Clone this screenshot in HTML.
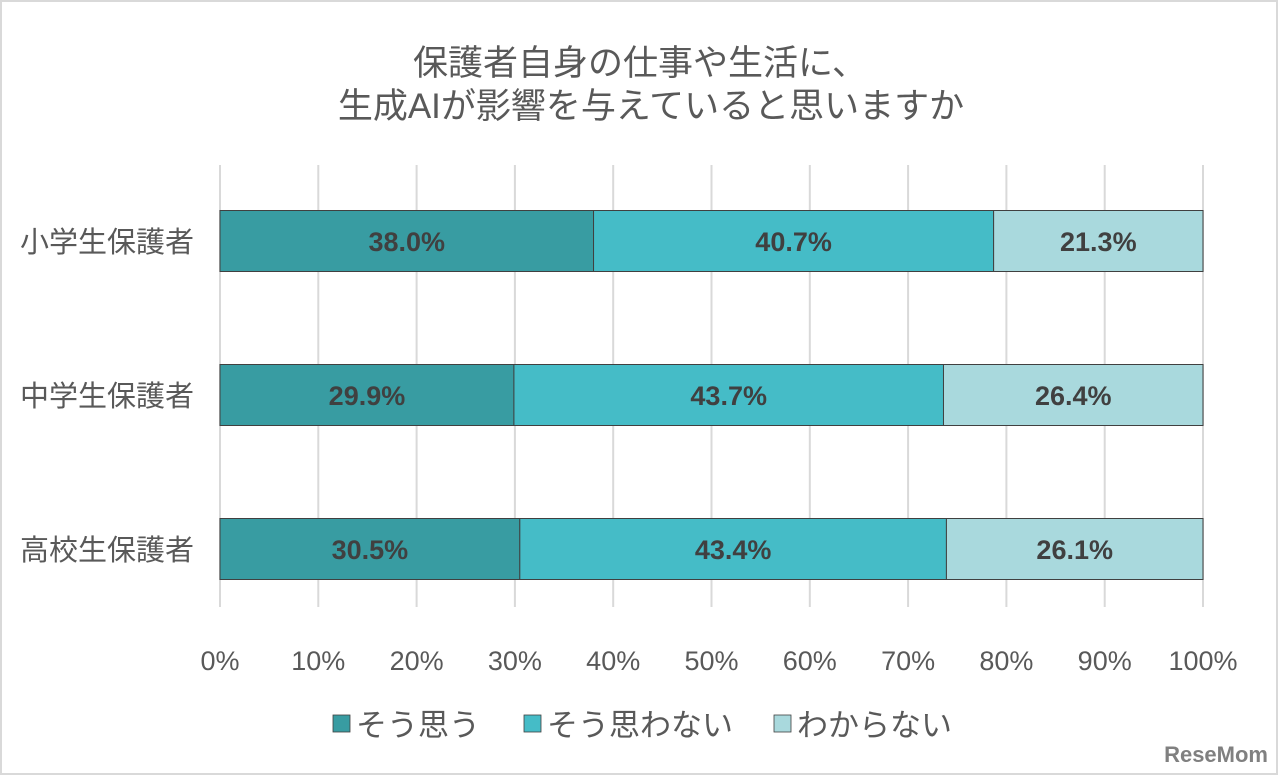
<!DOCTYPE html>
<html><head><meta charset="utf-8"><style>
html,body{margin:0;padding:0;background:#fff;}
svg{display:block;font-family:"Liberation Sans","Noto Sans CJK JP",sans-serif;}
</style></head><body>
<svg id="chart" width="1280" height="777" viewBox="0 0 1280 777">
<rect x="1" y="1" width="1276" height="773" fill="#fff" stroke="#d9d9d9" stroke-width="2"/>
<text x="640" y="75" text-anchor="middle" font-size="35" fill="#595959">保護者自身の仕事や生活に、</text>
<text x="651" y="118" text-anchor="middle" font-size="35" fill="#595959">生成AIが影響を与えていると思いますか</text>
<g id="grid"></g><g id="bars"></g><g id="xt"></g><g id="yt"></g>
<g>
<rect x="333" y="715" width="17" height="17" fill="#389ca2" stroke="#404040" stroke-width="0.8"/>
<text x="356" y="736" font-size="31" fill="#595959">そう思う</text>
<rect x="524" y="715" width="17" height="17" fill="#45bcc7" stroke="#404040" stroke-width="0.8"/>
<text x="547" y="736" font-size="31" fill="#595959">そう思わない</text>
<rect x="774" y="715" width="17" height="17" fill="#a9d9dd" stroke="#404040" stroke-width="0.8"/>
<text x="797" y="736" font-size="31" fill="#595959">わからない</text>
</g>
<text x="1268" y="762" text-anchor="end" font-size="22" font-weight="bold" fill="#808080">ReseMom</text>
</svg>
<script>
const categories=["小学生保護者","中学生保護者","高校生保護者"];
const seriesYes=[38.0,29.9,30.5];
const seriesNo=[40.7,43.7,43.4];
const seriesUnknown=[21.3,26.4,26.1];
const tickValues=[0,10,20,30,40,50,60,70,80,90,100];
const ns="http://www.w3.org/2000/svg";
const x0=220,x1=1203;
const xs=v=>x0+(x1-x0)*v/100;
const rowY=i=>241+i*154;
const bh=61;
function mk(t,a,p){const e=document.createElementNS(ns,t);for(const k in a)e.setAttribute(k,a[k]);p.appendChild(e);return e;}
const g=document.getElementById('grid'),b=document.getElementById('bars'),xt=document.getElementById('xt'),yt=document.getElementById('yt');
tickValues.forEach(v=>{
 const l=mk('line',{x1:xs(v),x2:xs(v),y1:165,y2:607,stroke:'#d9d9d9','stroke-width':2},g);
 
 
 const t=mk('text',{x:xs(v),y:670,'text-anchor':'middle','font-size':27,fill:'#595959'},xt);
 t.textContent=v+'%';
 
 
});
const series=[[seriesYes,'#389ca2','yes'],[seriesNo,'#45bcc7','no'],[seriesUnknown,'#a9d9dd','unknown']];
categories.forEach((c,i)=>{
 const yc=rowY(i);
 const t=mk('text',{x:194,y:yc+11,'text-anchor':'end','font-size':29,fill:'#595959'},yt);
 t.textContent=c;
 
 
 let acc=0;
 series.forEach(([arr,col,nm])=>{
  const v=arr[i];
  const r=mk('rect',{x:xs(acc),y:yc-bh/2,width:xs(acc+v)-xs(acc),height:bh,fill:col,stroke:'#404040','stroke-width':1},b);
  
  
  const lt=mk('text',{x:(xs(acc)+xs(acc+v))/2,y:yc+10,'text-anchor':'middle','font-size':27,'font-weight':'bold',fill:'#404040'},b);
  lt.textContent=v.toFixed(1)+'%';
  
  
  acc+=v;
 });
});
</script>
</body></html>
